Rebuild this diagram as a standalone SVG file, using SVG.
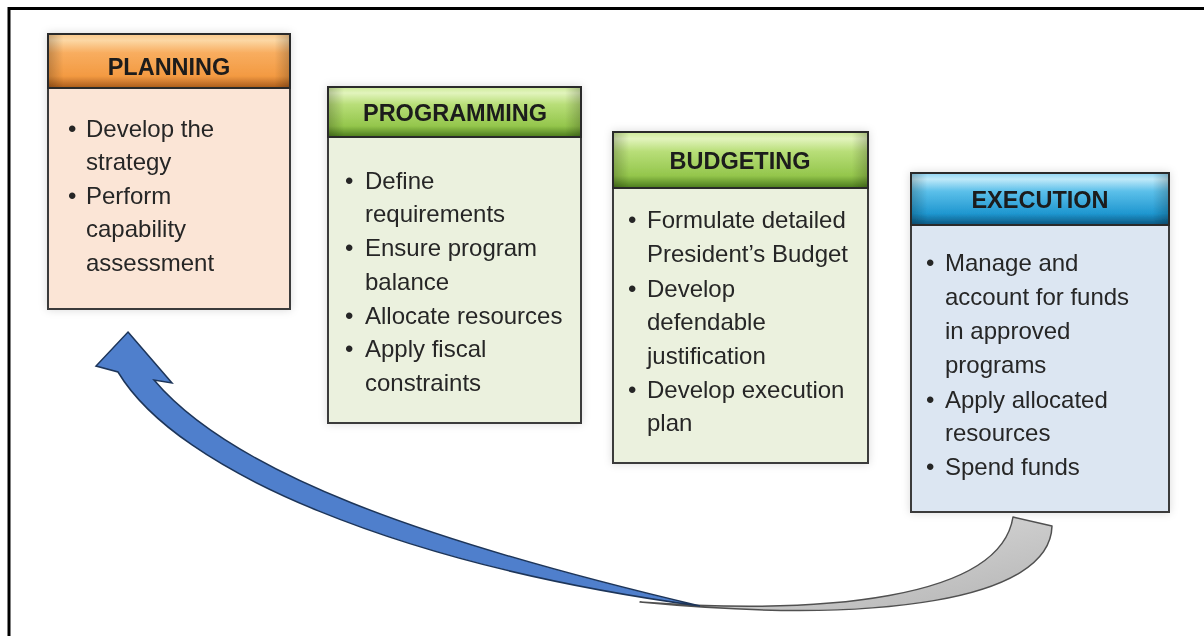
<svg xmlns="http://www.w3.org/2000/svg" width="1204" height="636" viewBox="0 0 1204 636">
<defs>
<linearGradient id="gOr" x1="0" y1="0" x2="0" y2="1">
<stop offset="0" stop-color="#f9c88a"/><stop offset="0.12" stop-color="#fcd7a4"/><stop offset="0.35" stop-color="#f8ad5f"/><stop offset="0.78" stop-color="#f39a42"/><stop offset="1" stop-color="#a85a1a"/>
</linearGradient>
<linearGradient id="gGr" x1="0" y1="0" x2="0" y2="1">
<stop offset="0" stop-color="#cdea98"/><stop offset="0.12" stop-color="#e2f4bd"/><stop offset="0.35" stop-color="#b8de78"/><stop offset="0.78" stop-color="#94c64c"/><stop offset="1" stop-color="#4a7a1c"/>
</linearGradient>
<linearGradient id="gBl" x1="0" y1="0" x2="0" y2="1">
<stop offset="0" stop-color="#8fd4f2"/><stop offset="0.12" stop-color="#bfe9f9"/><stop offset="0.35" stop-color="#5cc0ea"/><stop offset="0.78" stop-color="#1f97d0"/><stop offset="1" stop-color="#0a5680"/>
</linearGradient>
<linearGradient id="gSide" x1="0" y1="0" x2="1" y2="0">
<stop offset="0" stop-color="#000" stop-opacity="0.2"/><stop offset="0.06" stop-color="#000" stop-opacity="0"/><stop offset="0.94" stop-color="#000" stop-opacity="0"/><stop offset="1" stop-color="#000" stop-opacity="0.2"/>
</linearGradient>
<linearGradient id="gGray" x1="0" y1="0" x2="1" y2="1">
<stop offset="0" stop-color="#e4e4e4"/><stop offset="1" stop-color="#b4b4b4"/>
</linearGradient>
<filter id="sh" x="-10%" y="-10%" width="120%" height="120%">
<feDropShadow dx="0" dy="0" stdDeviation="4" flood-color="#000" flood-opacity="0.15"/>
</filter>
</defs>
<style>
.frame{stroke:#000;stroke-width:3;fill:none}
.body{stroke:#3a3a3a;stroke-width:2}
.hdr{stroke:#2a2a2a;stroke-width:2}
.side{fill:url(#gSide)}
.ht{font-family:"Liberation Sans",Arial,sans-serif;font-weight:bold;font-size:23.5px;fill:#1a1a1a;text-anchor:middle}
.bt{font-family:"Liberation Sans",Arial,sans-serif;font-size:24px;fill:#262626}
</style>
<rect width="1204" height="636" fill="#ffffff"/>
<path class="frame" d="M9,640 V8.5 H1210"/>

<g id="connectors">
<path id="arrow-back" d="M1013,517 L1052,526 C1050,600 880,625 640,602 C820,615 1000,600 1013,517 Z" fill="url(#gGray)" stroke="#505050" stroke-width="1.5" stroke-linejoin="round"/>
<path id="arrow-front" d="M128,332 L172,383 L154,380 C232,472 420,540 700,606 C400,565 178,472 118,372 L96,366 Z" fill="#4f7fcc" stroke="#1d3559" stroke-width="1.5" stroke-linejoin="miter"/>
</g>

<g id="planning" filter="url(#sh)">
<rect class="body" x="48" y="88" width="242" height="221" fill="#fbe5d6"/>
<rect class="hdr" x="48" y="34" width="242" height="54" fill="url(#gOr)"/>
<rect x="49" y="35" width="240" height="52" class="side"/>
<text class="ht" x="169" y="75">PLANNING</text>
<text class="bt"><tspan x="68" y="137">•</tspan><tspan x="86" y="137">Develop the</tspan><tspan x="86" y="170">strategy</tspan><tspan x="68" y="204">•</tspan><tspan x="86" y="204">Perform</tspan><tspan x="86" y="237">capability</tspan><tspan x="86" y="271">assessment</tspan></text>
</g>

<g id="programming" filter="url(#sh)">
<rect class="body" x="328" y="137" width="253" height="286" fill="#ebf1de"/>
<rect class="hdr" x="328" y="87" width="253" height="50" fill="url(#gGr)"/>
<rect x="329" y="88" width="251" height="48" class="side"/>
<text class="ht" x="455" y="121">PROGRAMMING</text>
<text class="bt"><tspan x="345" y="189">•</tspan><tspan x="365" y="189">Define</tspan><tspan x="365" y="222">requirements</tspan><tspan x="345" y="256">•</tspan><tspan x="365" y="256">Ensure program</tspan><tspan x="365" y="290">balance</tspan><tspan x="345" y="324">•</tspan><tspan x="365" y="324">Allocate resources</tspan><tspan x="345" y="357">•</tspan><tspan x="365" y="357">Apply fiscal</tspan><tspan x="365" y="391">constraints</tspan></text>
</g>

<g id="budgeting" filter="url(#sh)">
<rect class="body" x="613" y="188" width="255" height="275" fill="#ebf1de"/>
<rect class="hdr" x="613" y="132" width="255" height="56" fill="url(#gGr)"/>
<rect x="614" y="133" width="253" height="54" class="side"/>
<text class="ht" x="740" y="169">BUDGETING</text>
<text class="bt"><tspan x="628" y="228">•</tspan><tspan x="647" y="228">Formulate detailed</tspan><tspan x="647" y="262">President’s Budget</tspan><tspan x="628" y="297">•</tspan><tspan x="647" y="297">Develop</tspan><tspan x="647" y="330">defendable</tspan><tspan x="647" y="364">justification</tspan><tspan x="628" y="398">•</tspan><tspan x="647" y="398">Develop execution</tspan><tspan x="647" y="431">plan</tspan></text>
</g>

<g id="execution" filter="url(#sh)">
<rect class="body" x="911" y="225" width="258" height="287" fill="#dce6f2"/>
<rect class="hdr" x="911" y="173" width="258" height="52" fill="url(#gBl)"/>
<rect x="912" y="174" width="256" height="50" class="side"/>
<text class="ht" x="1040" y="208">EXECUTION</text>
<text class="bt"><tspan x="926" y="271">•</tspan><tspan x="945" y="271">Manage and</tspan><tspan x="945" y="305">account for funds</tspan><tspan x="945" y="339">in approved</tspan><tspan x="945" y="373">programs</tspan><tspan x="926" y="408">•</tspan><tspan x="945" y="408">Apply allocated</tspan><tspan x="945" y="441">resources</tspan><tspan x="926" y="475">•</tspan><tspan x="945" y="475">Spend funds</tspan></text>
</g>
</svg>
